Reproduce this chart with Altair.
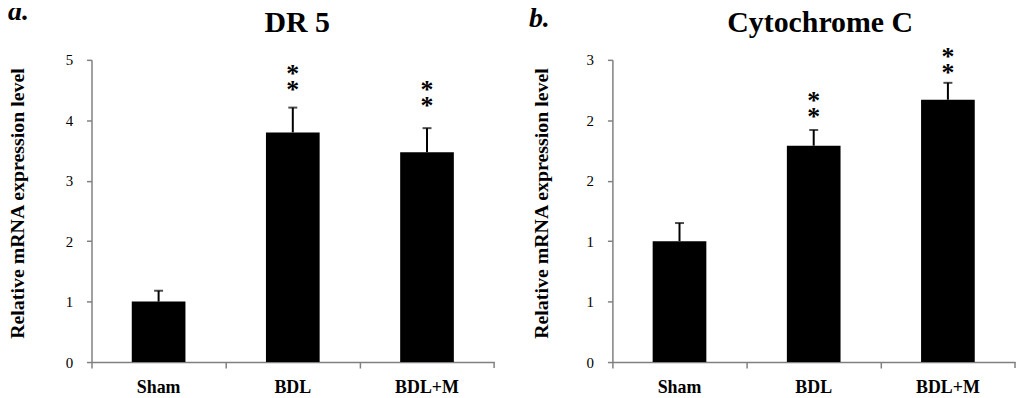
import altair as alt
import pandas as pd

# ---- data ----
groups = ["Sham", "BDL", "BDL+M"]
dr5_mean = [1.00, 3.80, 3.47]
dr5_sem = [0.18, 0.41, 0.40]
dr5_star = [0.0, 4.68, 4.41]       # centre of the "**" annotation (data units)
cytc_mean = [1.00, 1.79, 2.17]
cytc_sem = [0.15, 0.13, 0.14]
cytc_star = [0.0, 2.12, 2.48]
sig = ["", "*\n*", "*\n*"]

dr5_ticks = [0, 1, 2, 3, 4, 5]
cytc_ticks = [0, 0.5, 1.0, 1.5, 2.0, 2.5]

FONT = "Liberation Serif"
GREY = "#808080"
W, H = 405, 304


def panel(letter, title, mean, sem, star, ymax, ticks, letter_y, title_x, ytitle_x):
    df = pd.DataFrame({
        "group": groups,
        "mean": mean,
        "err": [m + s for m, s in zip(mean, sem)],
        "star": star,
        "sig": sig,
    })
    base = alt.Chart(df)

    xaxis = alt.Axis(
        title=None, labelAngle=0, labelFont=FONT, labelFontSize=18,
        labelFontWeight="bold", labelColor="black", labelPadding=11,
        bandPosition=-0.75, tickSize=6, tickColor=GREY, tickWidth=1.5,
        domainColor=GREY, domainWidth=1.5, grid=False,
    )
    x = alt.X("group:N", sort=groups,
              scale=alt.Scale(paddingInner=0.6, paddingOuter=0.3), axis=xaxis)
    xs = alt.X("group:N", sort=groups)

    yaxis = alt.Axis(
        title="Relative mRNA expression level", values=ticks,
        labelExpr="round(datum.value)",
        labelFont=FONT, labelFontSize=15, labelColor="black", labelPadding=14,
        tickSize=5, tickColor=GREY, tickWidth=1.5, domainColor=GREY, domainWidth=1.5,
        grid=False, titleFont=FONT, titleFontSize=20, titleFontWeight="bold",
        titleColor="black", titleX=ytitle_x, titleY=144, titleAngle=270,
        titleBaseline="middle", titleAlign="center",
    )
    y = alt.Y("mean:Q", scale=alt.Scale(domain=[0, ymax], nice=False), axis=yaxis)

    bars = base.mark_bar(color="black").encode(x=x, y=y)
    rule = base.mark_rule(color="black", strokeWidth=2).encode(
        x=xs, y="mean:Q", y2="err:Q")
    cap = base.mark_tick(color="black", thickness=2, size=9).encode(
        x=xs, y="err:Q")
    stars = base.transform_filter("datum.sig != ''").mark_text(
        font=FONT, fontSize=26, fontWeight="bold", baseline="middle",
        lineBreak="\n", lineHeight=16, dy=-5, color="black"
    ).encode(x=xs, y="star:Q", text="sig:N")

    letter_t = alt.Chart(alt.Data(values=[{"t": letter}])).mark_text(
        font=FONT, fontSize=28, fontWeight="bold", fontStyle="italic",
        align="left", baseline="alphabetic", color="black"
    ).encode(text="t:N", x=alt.value(-84), y=alt.value(letter_y))
    title_t = alt.Chart(alt.Data(values=[{"t": title}])).mark_text(
        font=FONT, fontSize=30, fontWeight="bold",
        align="center", baseline="alphabetic", color="black"
    ).encode(text="t:N", x=alt.value(title_x), y=alt.value(-28))
    end_tick = alt.Chart(alt.Data(values=[{"t": 0}])).mark_rule(
        color=GREY, strokeWidth=1.5
    ).encode(x=alt.value(W), y=alt.value(H), y2=alt.value(H + 6))
    spacer = alt.Chart(alt.Data(values=[{"t": 0}])).mark_rule(
        strokeOpacity=0
    ).encode(x=alt.value(0), y=alt.value(-70), y2=alt.value(-69))

    return alt.layer(bars, rule, cap, stars, letter_t, title_t,
                     end_tick, spacer).properties(width=W, height=H)


a = panel("a.", "DR 5", dr5_mean, dr5_sem, dr5_star, 5, dr5_ticks, -40, 207, -74)
b = panel("b.", "Cytochrome C", cytc_mean, cytc_sem, cytc_star, 2.5, cytc_ticks,
          -33, 209, -71)

chart = alt.hconcat(a, b, spacing=34).properties(
    padding={"left": 0, "top": -19, "right": 0, "bottom": 0}
).configure(font=FONT).configure_view(stroke="transparent", strokeWidth=0)

chart.save("out.html", embed_options={"renderer": "svg", "actions": False})
